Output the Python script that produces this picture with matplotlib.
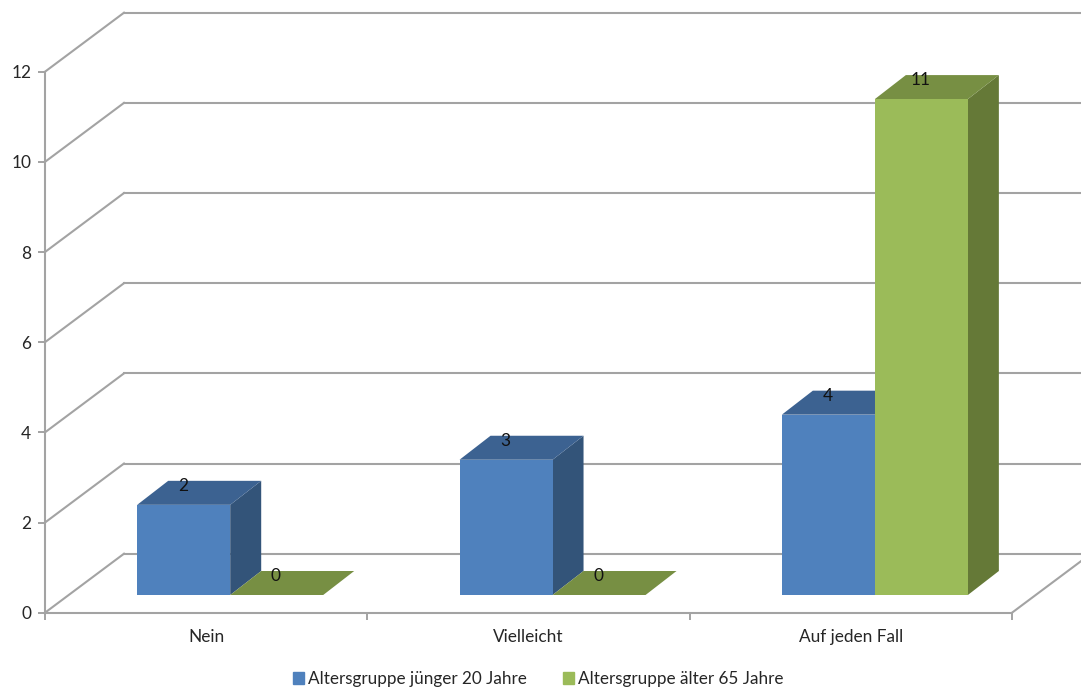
import numpy as np
import matplotlib
matplotlib.use("Agg")
import matplotlib.pyplot as plt
from matplotlib.patches import Patch, Polygon

plt.rcParams['font.family'] = ['Lato', 'DejaVu Sans']

categories = ["Nein", "Vielleicht", "Auf jeden Fall"]
young = [2, 3, 4]
old = [0, 0, 11]
y_ticks = [0, 2, 4, 6, 8, 10, 12]
legend_labels = ["Altersgruppe jünger 20 Jahre", "Altersgruppe älter 65 Jahre"]

W, H = 1081, 689
LEFT, RIGHT, TOP, BOTTOM = 45, 1012, 71.7, 612.7  # Achsen in Pixeln
px_x = (RIGHT - LEFT) / 3
px_y = (BOTTOM - TOP) / 12

# 3D-Versatz, in Datenkoordinaten umgerechnet
wall_dx, wall_dy = 79 / px_x, 59 / px_y
bar_dx, bar_dy = 31 / px_x, 24 / px_y
floor_y = 17.7 / px_y
bar_w = 93 / px_x
bar_start = 92.2 / px_x

LINE = "#a3a3a3"
TEXT = "#262626"
BLUE = ("#4f81bd", "#3c6291", "#335479")
GREEN = ("#9bbb59", "#778f43", "#657937")

fig = plt.figure(figsize=(W / 100, H / 100), dpi=100)
ax = fig.add_axes([LEFT / W, 1 - BOTTOM / H, (RIGHT - LEFT) / W, (BOTTOM - TOP) / H])
ax.set_xlim(0, 3)
ax.set_ylim(0, 12)

for s in ["top", "right"]:
    ax.spines[s].set_visible(False)
for s in ["left", "bottom"]:
    ax.spines[s].set_color(LINE)
    ax.spines[s].set_linewidth(1.5)

ax.set_yticks(y_ticks)
ax.set_xticks([0, 1, 2, 3])
ax.set_xticklabels([])
ax.set_xticks([0.5, 1.5, 2.5], categories, minor=True)
ax.tick_params(axis="y", length=5, width=1.4, color=LINE, labelsize=12.4, labelcolor=TEXT, pad=5)
ax.tick_params(axis="x", which="major", length=5, width=1.4, color=LINE)
ax.tick_params(axis="x", which="minor", length=0, labelsize=12.4, labelcolor=TEXT, pad=12)

# Rueckwand und Seitenwand
for v in y_ticks:
    ax.plot([0, wall_dx], [v, v + wall_dy], color=LINE, lw=1.5, clip_on=False, zorder=1)
    ax.plot([wall_dx, 3 + wall_dx], [v + wall_dy, v + wall_dy], color=LINE, lw=1.5, clip_on=False, zorder=1)
ax.plot([3, 3 + wall_dx], [0, wall_dy], color=LINE, lw=1.5, clip_on=False, zorder=1)


def draw_bar(x, value, colors, z):
    front, top, side = colors
    y0 = floor_y
    y1 = floor_y + value
    if value > 0:
        ax.add_patch(Polygon([(x + bar_w, y0), (x + bar_w + bar_dx, y0 + bar_dy),
                              (x + bar_w + bar_dx, y1 + bar_dy), (x + bar_w, y1)],
                             fc=side, ec="none", clip_on=False, zorder=z))
    ax.add_patch(Polygon([(x, y1), (x + bar_dx, y1 + bar_dy),
                          (x + bar_w + bar_dx, y1 + bar_dy), (x + bar_w, y1)],
                         fc=top, ec="none", clip_on=False, zorder=z))
    if value > 0:
        ax.bar(x, value, bar_w, bottom=y0, align="edge", color=front, clip_on=False, zorder=z + 0.1)
    ax.annotate(str(value), (x + bar_w / 2, y1), xytext=(-1, 19), textcoords="offset pixels",
                ha="center", va="center", fontsize=12.4, color="#111111", zorder=10)


for i in range(len(categories)):
    draw_bar(i + bar_start, young[i], BLUE, 3 + i * 2)
    draw_bar(i + bar_start + bar_w, old[i], GREEN, 4 + i * 2 if old[i] == 0 else 4.5 + i * 2)

handles = [Patch(color=BLUE[0]), Patch(color=GREEN[0])]
fig.legend(handles, legend_labels, ncol=2, frameon=False, loc="center",
           bbox_to_anchor=(538 / W, 1 - 679 / H), fontsize=12.3, labelcolor=TEXT,
           handlelength=0.65, handleheight=0.65, handletextpad=0.25, columnspacing=2.1)

plt.savefig("out.png", dpi=100)
